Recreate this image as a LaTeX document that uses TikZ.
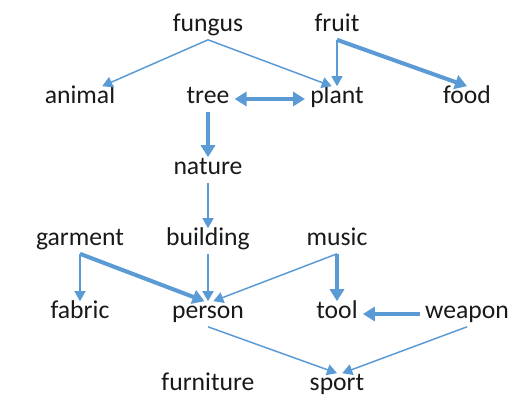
\documentclass[tikz,border=0pt]{standalone}
\usepackage{fontspec}
\setmainfont{Carlito}
\usetikzlibrary{arrows.meta}
\usepackage{xcolor}
\definecolor{linkblue}{HTML}{5B9BD5}

\begin{document}
\begin{tikzpicture}[x=0.02cm,y=-0.02cm,
  word/.style={font=\fontsize{14.6}{17}\selectfont, text=black!90,
    inner xsep=2.8pt, inner ysep=2.6pt, text height=0.7em, text depth=0.2em},
  weaklink/.style={draw=linkblue, line width=0.85pt,
    >={Triangle[length=5.7pt,width=6.3pt]}, ->},
  stronglink/.style={draw=linkblue, line width=2.3pt,
    >={Triangle[length=6.8pt,width=8pt]}, ->}]
\useasboundingbox (0,0) rectangle (526,418);
\foreach \n/\x/\y in {fungus/208/27, fruit/337/27,
    animal/80/99, tree/208/99, plant/337/99, food/467/99,
    nature/208/170,
    garment/80/241, building/208/241, music/337/241,
    fabric/80/314, person/208/314, tool/337/314, weapon/467/314,
    furniture/208/386, sport/337/386}
  \node[word] (\n) at (\x,\y) {\n};

\draw[weaklink] (fungus.south) -- (animal.30);
\draw[weaklink] (fungus.south) -- ([xshift=-3pt]plant.north);
\draw[weaklink] (fruit.south) -- (plant.north);
\draw[stronglink] (fruit.south) -- (food.north);
\draw[stronglink,<->] (tree.east) -- (plant.west);
\draw[stronglink] (tree.south) -- (nature.north);
\draw[weaklink] (nature.south) -- (building.north);
\draw[weaklink] (building.south) -- (person.north);
\draw[weaklink] (garment.south) -- (fabric.north);
\draw[stronglink] (garment.south) -- ([xshift=-2pt]person.north);
\draw[weaklink] (music.south) -- ([xshift=3pt]person.north);
\draw[stronglink] (music.south) -- (tool.north);
\draw[stronglink] (weapon.west) -- (tool.east);
\draw[weaklink] (person.south) -- (sport.north);
\draw[weaklink] (weapon.south) -- ([xshift=3pt]sport.north);
\end{tikzpicture}
\end{document}
